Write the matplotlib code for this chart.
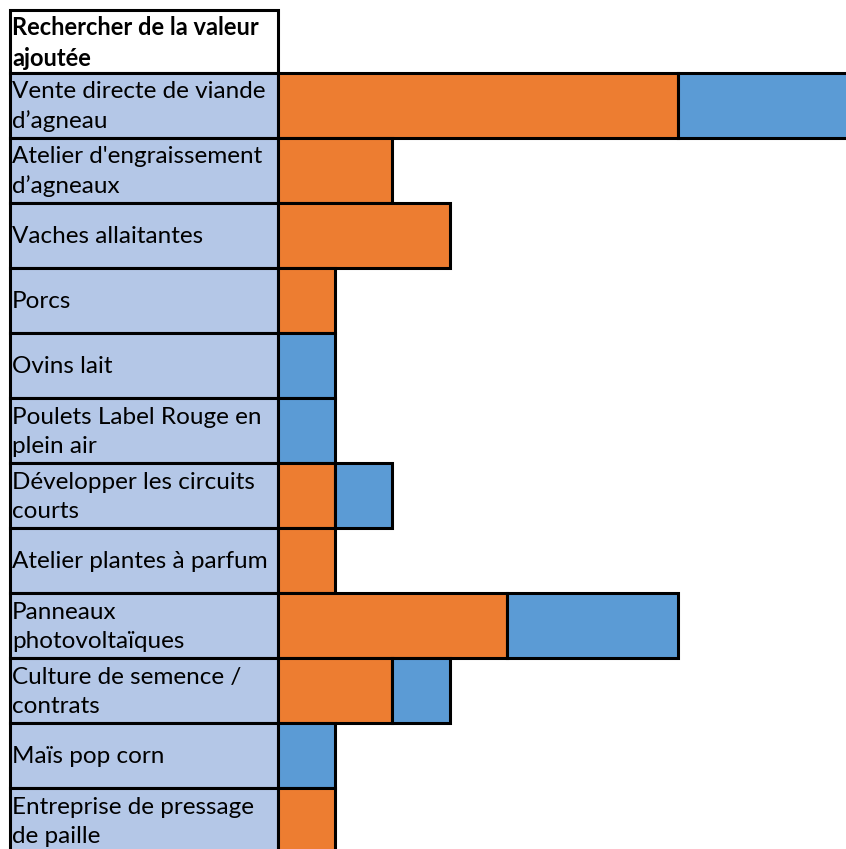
import matplotlib
matplotlib.use("Agg")
import matplotlib.pyplot as plt
from matplotlib.patches import Rectangle

# donnees
titre = "Rechercher de la valeur\najoutée"
categories = [
    "Vente directe de viande\nd\u2019agneau",
    "Atelier d'engraissement\nd\u2019agneaux",
    "Vaches allaitantes",
    "Porcs",
    "Ovins lait",
    "Poulets Label Rouge en\nplein air",
    "Développer les circuits\ncourts",
    "Atelier plantes à parfum",
    "Panneaux\nphotovoltaïques",
    "Culture de semence /\ncontrats",
    "Maïs pop corn",
    "Entreprise de pressage\nde paille",
]
orange = [7, 2, 3, 1, 0, 0, 1, 1, 4, 2, 0, 1]
bleu = [3, 0, 0, 0, 1, 1, 1, 0, 3, 1, 1, 0]

W, H = 846, 849
unite = 57.2      # largeur d'une case en px
x0 = 278          # debut des barres en px
haut = 73         # haut de la premiere ligne en px
ligne = 65        # hauteur d'une ligne en px

plt.rcParams['font.family'] = ['Lato', 'DejaVu Sans']

fig = plt.figure(figsize=(W / 100, H / 100), dpi=100)
ax = fig.add_axes([0, 0, 1, 1])
ax.set_xlim(-x0 / unite, (W - x0) / unite)
ax.set_ylim((H - haut) / ligne, -haut / ligne)
ax.axis('off')

lw = 2.2
gauche = -(x0 - 10) / unite
taille = 17.5

# en-tete
ax.add_patch(Rectangle((gauche, -(haut - 10) / ligne), -gauche, (haut - 10) / ligne,
                       facecolor='white', edgecolor='black', lw=lw))
ax.text(gauche + 2 / unite, -(haut - 10) / ligne / 2 + 0.02, titre, fontsize=taille - 0.5,
        fontweight='bold', va='center', ha='left', linespacing=1.45)

for i, cat in enumerate(categories):
    ax.add_patch(Rectangle((gauche, i), -gauche, 1, facecolor='#B4C7E7',
                           edgecolor='black', lw=lw))
    ax.text(gauche + 2 / unite, i + 0.52, cat, fontsize=taille, va='center',
            ha='left', linespacing=1.45)

y = [i for i in range(len(categories))]
for i in range(len(categories)):
    if orange[i] > 0:
        ax.barh(y[i], orange[i], left=0, height=1, align='edge',
                color='#ED7D31', edgecolor='black', lw=lw)
    if bleu[i] > 0:
        ax.barh(y[i], bleu[i], left=orange[i], height=1, align='edge',
                color='#5B9BD5', edgecolor='black', lw=lw)

fig.savefig("out.png", dpi=100)
